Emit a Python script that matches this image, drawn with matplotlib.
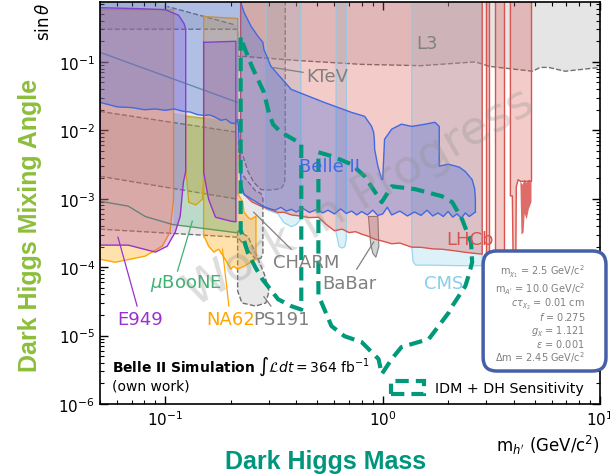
import matplotlib
matplotlib.use("Agg")
import matplotlib.pyplot as plt
from matplotlib.colors import to_rgba
from matplotlib.patches import Patch, FancyBboxPatch

TOP = 0.75
XMIN, XMAX = 0.05, 10.0

# ---------------- data (mass in GeV, sin theta) ----------------
# L3 (upper grey band), lower boundary
l3_mass = [0.05, 0.215, 0.215, 0.23, 0.40, 0.80, 1.5, 2.67, 3.1, 4.9, 5.3, 5.8, 6.9, 10.0]
l3_sin = [0.30, 0.30, 0.12, 0.12, 0.105, 0.092, 0.088, 0.10, 0.086, 0.073, 0.083, 0.083, 0.073, 0.083]

# other grey band on the left
grey_mass = [0.05, 0.215, 0.215, 0.206, 0.102, 0.09, 0.05]
grey_sin = [2.13e-3, 9.85e-4, 0.34, 0.352, 0.645, TOP, TOP]

# CHARM
charm_mass = [0.05, 0.215, 0.22, 0.26, 0.275, 0.281, 0.281, 0.275, 0.26, 0.24, 0.215, 0.05]
charm_sin = [0.0189, 0.00935, 0.0025, 0.0013, 0.0012, 0.001, 1.6e-4, 1.35e-4, 1.3e-4, 1.8e-4, 2.74e-4, 3.59e-4]

# KTeV
ktev_mass = [0.222, 0.222, 0.24, 0.255, 0.275, 0.30, 0.34, 0.354, 0.356, 0.356]
ktev_sin = [TOP, 0.0053, 0.0025, 0.00174, 0.00136, 0.00134, 0.0014, 0.0017, 0.003, TOP]

# PS191
ps191_mass = [0.215, 0.215, 0.225, 0.26, 0.29, 0.30, 0.285, 0.26, 0.24]
ps191_sin = [3.4e-4, 4.5e-5, 3.0e-5, 2.7e-5, 3.0e-5, 4.5e-5, 8e-5, 1.6e-4, 2.8e-4]

# BaBar
babar_mass = [0.86, 0.88, 0.90, 0.93, 0.96, 0.95]
babar_sin = [5.5e-4, 2.2e-4, 1.6e-4, 1.4e-4, 2.0e-4, 5.5e-4]

# E949
e949a_mass = [0.05, 0.10, 0.14, 0.115, 0.122, 0.124, 0.124, 0.121, 0.117, 0.111, 0.102, 0.090, 0.0674, 0.05]
e949a_mass = [0.05, 0.075, 0.10, 0.115, 0.122, 0.124, 0.124, 0.121, 0.117, 0.111, 0.102, 0.090, 0.0674, 0.05]
e949a_sin = [0.62, 0.60, 0.58, 0.48, 0.36, 0.30, 2.5e-3, 1.74e-3, 5.56e-4, 3.25e-4, 2.03e-4, 1.66e-4, 2.1e-4, 2.1e-4]
e949b_mass = [0.150, 0.211, 0.211, 0.20, 0.17, 0.158, 0.150]
e949b_sin = [0.193, 0.20, 4.6e-4, 4.7e-4, 5.37e-4, 9.85e-4, 2.44e-3]

# NA62
na62a_mass = [0.05, 0.109, 0.109, 0.105, 0.0968, 0.0808, 0.0587, 0.05]
na62a_sin = [0.58, 0.58, 9.85e-4, 3.25e-4, 2.03e-4, 1.45e-4, 1.18e-4, 1.31e-4]
na62b_mass = [0.124, 0.150, 0.150, 0.148, 0.138, 0.128, 0.126, 0.124]
na62b_sin = [0.016, 0.015, 2.13e-3, 9.85e-4, 8.1e-4, 8.9e-4, 1.74e-3, 2.5e-3]
na62c_mass = [0.150, 0.215, 0.215, 0.227, 0.23, 0.24, 0.247, 0.261, 0.261, 0.247, 0.23,
              0.215, 0.206, 0.20, 0.186, 0.176, 0.167, 0.158, 0.153, 0.150]
na62c_sin = [0.46, 0.43, 1.2e-3, 8.9e-4, 6.35e-4, 5.37e-4, 5.0e-4, 5.56e-4, 1.31e-4, 1.18e-4, 1.03e-4,
             9.35e-5, 1.03e-4, 9.35e-5, 1.39e-4, 1.83e-4, 1.66e-4, 2.03e-4, 2.57e-4, 2.8e-4]

# MicroBooNE: boundary lines and filled part
ub_lo_mass = [0.05, 0.0674, 0.0808, 0.108, 0.211, 0.215]
ub_lo_sin = [9.2e-4, 7.8e-4, 5.5e-4, 4.2e-4, 3.2e-4, 3.2e-4]
ub_up_mass = [0.05, 0.215]
ub_up_sin = [0.138, 0.0256]
ub_fill_mass = [0.109, 0.215, 0.215, 0.211, 0.150, 0.109]
ub_fill_sin = [0.018, 0.013, 3.2e-4, 3.2e-4, 3.7e-4, 4.2e-4]

# CMS strips
cms1_mass = [0.29, 0.29, 0.33, 0.35, 0.38, 0.40, 0.42, 0.42]
cms1_sin = [TOP, 7e-4, 6e-4, 4.5e-4, 3.9e-4, 4.2e-4, 5e-4, TOP]
cms2_mass = [0.61, 0.61, 0.63, 0.65, 0.67, 0.68, 0.68]
cms2_sin = [TOP, 3.2e-4, 2.0e-4, 1.9e-4, 2.0e-4, 2.6e-4, TOP]
cms3_mass = [1.36, 1.36, 1.38, 1.42, 1.63, 2.3, 2.87, 2.87]
cms3_sin = [TOP, 2.0e-4, 1.2e-4, 1.07e-4, 1.07e-4, 1.05e-4, 1.05e-4, TOP]

# LHCb
lhcb_mass = [0.222, 0.23, 0.25, 0.275, 0.30, 0.33, 0.351, 0.38, 0.422, 0.46, 0.506, 0.55, 0.60, 0.65,
             0.70, 0.75, 0.80, 0.861, 0.918, 1.0, 1.1, 1.2, 1.36, 1.5, 1.7, 1.87, 2.1, 2.4, 2.6, 2.87]
lhcb_sin = [1.5e-3, 1.16e-3, 9e-4, 7.8e-4, 7e-4, 6.3e-4, 6.35e-4, 5.8e-4, 5.56e-4, 5.3e-4, 5.37e-4, 4.2e-4,
            3.4e-4, 3.6e-4, 3.2e-4, 3.3e-4, 3.04e-4, 2.82e-4, 2.57e-4, 2.4e-4, 2.2e-4, 2.25e-4, 1.96e-4,
            1.95e-4, 1.85e-4, 1.83e-4, 1.75e-4, 1.65e-4, 1.6e-4, 1.55e-4]
lhcb_s1_mass = [3.0, 3.0, 3.1, 3.1]
lhcb_s1_sin = [TOP, 1.45e-4, 1.45e-4, TOP]
lhcb_s2_mass = [3.27, 3.27, 3.6, 3.6]
lhcb_s2_sin = [TOP, 1.45e-4, 1.45e-4, TOP]
lhcb_s3_mass = [3.87, 3.87, 3.95, 3.98, 4.1, 4.12, 4.2, 4.3, 4.84, 4.84]
lhcb_s3_sin = [TOP, 1.1e-3, 1.1e-3, 1.6e-4, 1.6e-4, 1.5e-3, 1.9e-3, 1.8e-3, 1.8e-3, TOP]
lhcb_dark_mass = [4.3, 4.4, 4.5, 4.6, 4.7, 4.84, 4.84, 4.7, 4.6, 4.5, 4.45, 4.35]
lhcb_dark_sin = [1.8e-3, 1.6e-3, 1.9e-3, 1.7e-3, 1.9e-3, 1.8e-3, 9e-4, 7e-4, 5e-4, 6e-4, 3.2e-4, 3.0e-4]

# Belle II
b2_up_mass = [0.05, 0.222, 0.23, 0.248, 0.267, 0.281, 0.284, 0.306, 0.379, 0.538, 0.718, 0.826, 0.889,
              0.908, 0.915, 0.918, 0.95, 0.989, 1.0, 1.02, 1.10, 1.22, 1.36, 1.55, 1.74, 1.82, 1.82,
              2.0, 2.25, 2.40, 2.58, 2.65, 2.67, 2.67]
b2_up_sin = [TOP, TOP, 0.53, 0.33, 0.235, 0.193, 0.152, 0.086, 0.0397, 0.0256, 0.0183, 0.016, 0.0114,
             0.0094, 0.0075, 0.0053, 0.003, 0.00193, 0.0019, 0.0074, 0.0104, 0.0123, 0.0114, 0.0122,
             0.0131, 0.0114, 0.003, 0.0032, 0.0029, 0.0025, 0.0019, 0.0014, 0.001, 6.4e-4]
b2_lo_mass = [0.05, 0.06, 0.07, 0.08, 0.09, 0.1, 0.11, 0.12, 0.13, 0.14, 0.15, 0.16, 0.17, 0.18, 0.19,
              0.2, 0.21, 0.214, 0.217, 0.22, 0.222, 0.23, 0.25, 0.265, 0.28, 0.30, 0.32, 0.34, 0.36,
              0.38, 0.40, 0.43, 0.46, 0.50, 0.53, 0.56, 0.6, 0.64, 0.68, 0.72, 0.76, 0.80, 0.85, 0.9,
              0.95, 1.0, 1.05, 1.1, 1.2, 1.3, 1.4, 1.5, 1.6, 1.7, 1.8, 1.9, 2.0, 2.1, 2.2, 2.3, 2.4,
              2.5, 2.6, 2.67]
b2_lo_sin = [0.0256, 0.022, 0.0215, 0.02, 0.0205, 0.0196, 0.0205, 0.019, 0.0185, 0.017, 0.0165, 0.0168,
             0.0155, 0.014, 0.0145, 0.0128, 0.0125, 0.0145, 0.0118, 0.0033, 0.0018, 0.00116, 0.00098,
             0.00088, 0.00078, 0.00072, 0.00068, 0.00075, 0.00066, 0.0007, 0.00064, 0.00072, 0.00063,
             0.0007, 0.00062, 0.00068, 0.0006, 0.00071, 0.00061, 0.00066, 0.00058, 0.00065, 0.00058,
             0.00068, 0.00057, 0.0006, 0.00075, 0.00058, 0.00066, 0.00056, 0.00064, 0.00057, 0.00068,
             0.00056, 0.00062, 0.00055, 0.00065, 0.00054, 0.0006, 0.00052, 0.00062, 0.00055, 0.0006,
             0.00064]

# IDM + DH sensitivity (two closed contours)
sens1_mass = [0.222, 0.222, 0.24, 0.261, 0.28, 0.296, 0.33, 0.379, 0.422, 0.422, 0.41, 0.34, 0.313,
              0.30, 0.284, 0.25, 0.23, 0.222]
sens1_sin = [0.228, 3.5e-4, 1.6e-4, 9.6e-5, 6.6e-5, 5.3e-5, 3.4e-5, 2.7e-5, 2.4e-5, 6.3e-3, 6.7e-3,
             9.4e-3, 0.0122, 0.0175, 0.0359, 0.086, 0.168, 0.228]
sens2_mass = [0.506, 0.581, 0.718, 0.826, 0.99, 1.10, 1.41, 1.87, 2.09, 2.32, 2.55, 2.58, 2.50, 2.40,
              2.09, 2.02, 1.63, 1.22, 1.10, 0.99, 0.957, 0.80, 0.667, 0.581, 0.522, 0.506, 0.506]
sens2_sin = [0.00478, 0.0042, 0.00319, 0.00213, 0.00089, 0.00152, 0.00138, 0.00109, 8.9e-4, 5.0e-4,
             2.3e-4, 1.18e-4, 8e-5, 5.28e-5, 2.7e-5, 2.2e-5, 8.9e-6, 6.8e-6, 4.54e-6, 2.74e-6, 4.54e-6,
             8.04e-6, 9.8e-6, 1.38e-5, 3.08e-5, 3.78e-5, 0.00478]

# labels: (text, mass, sin, colour, ha)
region_labels = [
    ("L3", 1.6, 0.19, "#808080", "center"),
    ("KTeV", 0.445, 0.0614, "#808080", "left"),
    ("Belle II", 0.569, 0.003, "#4169e1", "center"),
    ("LHCb", 2.53, 2.57e-4, "#d9534f", "center"),
    ("CMS", 1.9, 5.8e-5, "#87ceeb", "center"),
    ("BaBar", 0.703, 5.8e-5, "#808080", "center"),
    ("CHARM", 0.445, 1.18e-4, "#808080", "center"),
    ("PS191", 0.344, 1.74e-5, "#808080", "center"),
    ("NA62", 0.20, 1.74e-5, "#ffa500", "center"),
    ("E949", 0.0766, 1.74e-5, "#9932cc", "center"),
    (r"$\mu$BooNE", 0.124, 6.0e-5, "#3cb371", "center"),
]
# pointer lines: (m1, s1, m2, s2, colour)
pointers = [
    (0.43, 0.0703, 0.313, 0.0827, "#808080"),
    (0.759, 9.35e-5, 0.908, 2.32e-4, "#808080"),
    (0.379, 1.83e-4, 0.255, 6.35e-4, "#808080"),
    (0.306, 2.7e-5, 0.284, 3.7e-5, "#808080"),
    (0.196, 2.7e-5, 0.183, 1.83e-4, "#ffa500"),
    (0.0741, 2.7e-5, 0.0605, 2.74e-4, "#9932cc"),
    (0.1137, 8.75e-5, 0.133, 4.7e-4, "#3cb371"),
]

params = [
    r"m$_{\chi_1}$ = 2.5 GeV/c$^2$",
    r"m$_{A'}$ = 10.0 GeV/c$^2$",
    r"$c\tau_{\chi_2}$ = 0.01 cm",
    r"$f$ = 0.275",
    r"$g_\chi$ = 1.121",
    r"$\varepsilon$ = 0.001",
    r"$\Delta$m = 2.45 GeV/c$^2$",
]

# ---------------- figure ----------------
fig = plt.figure(figsize=(6.10, 4.77), dpi=100)
ax = fig.add_axes([0.1639, 0.1509, 0.8197, 0.8428])
ax.set_xscale("log")
ax.set_yscale("log")
ax.set_xlim(XMIN, XMAX)
ax.set_ylim(1e-6, TOP)


def region(m, s, color, alpha, z, ec=None, ls="-", lw=1.0, closed=True, ealpha=1.0):
    ax.fill(m, s, facecolor=to_rgba(color, alpha), edgecolor="none", zorder=z)
    if ec is not None:
        mm = list(m) + ([m[0]] if closed else [])
        ss = list(s) + ([s[0]] if closed else [])
        ax.plot(mm, ss, color=ec, ls=ls, lw=lw, zorder=z + 0.05, alpha=ealpha)


GREY = "#808080"
DGREY = "#707070"
# L3
region(l3_mass + [XMAX, XMIN], l3_sin + [TOP, TOP], GREY, 0.2, 1)
ax.plot(l3_mass, l3_sin, color=DGREY, ls="--", lw=1.0, zorder=1.1)
# grey band left
region(grey_mass, grey_sin, GREY, 0.18, 1)
ax.plot(grey_mass[:2], grey_sin[:2], color=DGREY, ls="--", lw=1.0, zorder=1.1)
ax.plot(grey_mass[3:5], grey_sin[3:5], color=DGREY, ls="--", lw=1.0, zorder=1.1)
# CHARM
region(charm_mass, charm_sin, GREY, 0.18, 1, ec=DGREY, ls="--")
# KTeV
region(ktev_mass, ktev_sin, GREY, 0.2, 1)
ax.plot(ktev_mass[1:], ktev_sin[1:], color=DGREY, ls="--", lw=1.0, zorder=1.1)
# PS191
region(ps191_mass, ps191_sin, GREY, 0.18, 1, ec=DGREY, ls="--")
# BaBar
region(babar_mass, babar_sin, GREY, 0.35, 1, ec=GREY, lw=0.8)

# NA62
for m, s in [(na62a_mass, na62a_sin), (na62b_mass, na62b_sin), (na62c_mass, na62c_sin)]:
    region(m, s, "#ffa500", 0.33, 2, ec="#ffa500", lw=1.0)
# MicroBooNE
region(ub_fill_mass, ub_fill_sin, "#3cb371", 0.25, 2.2)
ax.plot(ub_lo_mass, ub_lo_sin, color="#5f9a5f", lw=1.0, zorder=2.3)
ax.plot(ub_up_mass, ub_up_sin, color="#7c9a8c", lw=1.0, zorder=2.3)
# E949
region(e949a_mass, e949a_sin, "#9932cc", 0.25, 2.5, ec="#9932cc", lw=1.0)
region(e949b_mass, e949b_sin, "#9932cc", 0.25, 2.5, ec="#9932cc", lw=1.0)

# CMS
for m, s in [(cms1_mass, cms1_sin), (cms2_mass, cms2_sin), (cms3_mass, cms3_sin)]:
    region(m, s, "#87ceeb", 0.28, 3, ec="#87ceeb", lw=0.9, closed=False, ealpha=0.8)

# LHCb
LHCB = "#d9534f"
region([lhcb_mass[0]] + lhcb_mass + [lhcb_mass[-1]], [TOP] + lhcb_sin + [TOP], LHCB, 0.3, 3,
       ec=LHCB, lw=1.0, closed=False)
for m, s in [(lhcb_s1_mass, lhcb_s1_sin), (lhcb_s2_mass, lhcb_s2_sin), (lhcb_s3_mass, lhcb_s3_sin)]:
    region(m, s, LHCB, 0.3, 3, ec=LHCB, lw=1.0, closed=False)
region(lhcb_dark_mass, lhcb_dark_sin, LHCB, 0.85, 3)

# Belle II
B2 = "#4169e1"
ax.fill(b2_up_mass + b2_lo_mass[::-1], b2_up_sin + b2_lo_sin[::-1],
        facecolor=to_rgba(B2, 0.32), edgecolor="none", zorder=4)
ax.plot(b2_up_mass[1:], b2_up_sin[1:], color=B2, lw=1.0, zorder=4.1)
ax.plot(b2_lo_mass, b2_lo_sin, color=B2, lw=1.0, zorder=4.1)

# Sensitivity
TEAL = "#00997a"
dash = (0, (3.2, 1.7))
ax.plot(sens1_mass, sens1_sin, color=TEAL, lw=3, ls=dash, zorder=6)
ax.plot(sens2_mass, sens2_sin, color=TEAL, lw=3, ls=dash, zorder=6)

# labels
for txt, m, s, c, ha in region_labels:
    ax.text(m, s, txt, color=c, fontsize=13, ha=ha, va="center", zorder=7)
for m1, s1, m2, s2, c in pointers:
    ax.plot([m1, m2], [s1, s2], color=c, lw=0.9, zorder=7)

# watermark
ax.text(0.52, 0.515, "Work in Progress", transform=ax.transAxes, fontsize=34, color="#909090",
        alpha=0.3, rotation=30, ha="center", va="center", zorder=8)

# Belle II simulation text
ax.text(0.024, 0.082, r"$\mathbf{Belle\ II\ Simulation}$ $\int\mathcal{L}dt = 364\ \mathrm{fb}^{-1}$",
        transform=ax.transAxes, fontsize=10, ha="left", va="baseline", zorder=9)
ax.text(0.024, 0.037, "(own work)", transform=ax.transAxes, fontsize=10, ha="left",
        va="baseline", zorder=9)

# legend
handle = Patch(facecolor="none", edgecolor=TEAL, linestyle=(0, (3.2, 1.7)), linewidth=3)
leg = ax.legend([handle], ["IDM + DH Sensitivity"], loc="lower right", frameon=False,
                fontsize=10.3, handlelength=2.3, handleheight=1.0, bbox_to_anchor=(0.985, 0.0),
                borderaxespad=0.2)
leg.set_zorder(9)

# axes styling
ax.tick_params(which="both", direction="in", top=True, right=True, labelsize=11)
ax.tick_params(which="major", length=6, width=1)
ax.tick_params(which="minor", length=3, width=0.8)
ax.set_yticks([1e-6, 1e-5, 1e-4, 1e-3, 1e-2, 1e-1])
for sp in ax.spines.values():
    sp.set_linewidth(1.2)
    sp.set_zorder(10)
ax.set_xlabel(r"m$_{h'}$ (GeV/c$^2$)", loc="right", fontsize=12)
ax.set_ylabel(r"sin$\,\theta$", loc="top", fontsize=12)

# parameter box
box = FancyBboxPatch((0.792, 0.2201), 0.2014, 0.2516, boxstyle="round,pad=0,rounding_size=0.022",
                     transform=fig.transFigure, facecolor="white", edgecolor="#4660a8", linewidth=2.5,
                     zorder=20, mutation_aspect=1.28)
fig.add_artist(box)
param_y = [0.4298, 0.3941, 0.3627, 0.3354, 0.3040, 0.2788, 0.2495]
for txt, y in zip(params, param_y):
    fig.text(0.959, y, txt, fontsize=7, color="#7f7f7f", ha="right", va="center", zorder=21)

# big titles
fig.text(0.049, 0.528, "Dark Higgs Mixing Angle", rotation=90, ha="center", va="center",
         fontsize=18, fontweight="bold", color="#8cbe3c", family="Liberation Sans")
fig.text(0.534, 0.031, "Dark Higgs Mass", ha="center", va="center", fontsize=18,
         fontweight="bold", color="#00967d", family="Liberation Sans")

fig.savefig("out.png", dpi=100)
